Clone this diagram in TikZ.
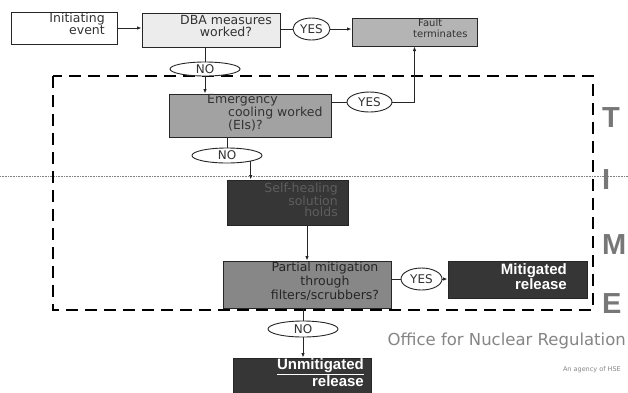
\documentclass[tikz,border=0pt]{standalone}
\usepackage{fontspec}
\setmainfont{DejaVu Sans}
\newfontfamily\arialfont{Liberation Sans}
\usetikzlibrary{shapes.geometric,arrows.meta}

\definecolor{edge}{HTML}{262626}
\definecolor{textdark}{HTML}{333333}
\definecolor{lightfill}{HTML}{ECECEC}
\definecolor{faultfill}{HTML}{B4B4B4}
\definecolor{coolfill}{HTML}{A2A2A2}
\definecolor{midfill}{HTML}{878787}
\definecolor{darkfill}{HTML}{363636}
\definecolor{dimtext}{HTML}{5E5E5E}
\definecolor{timegray}{HTML}{777777}
\definecolor{officegray}{HTML}{858585}

\begin{document}
\begin{tikzpicture}[x=1pt,y=-1pt]
\tikzstyle{flowbox}=[rectangle,draw=edge,line width=1pt,inner sep=0pt]
\tikzstyle{oval}=[ellipse,draw=edge,line width=0.9pt,fill=white,inner sep=0pt,text height=8.5pt,text depth=0pt,font=\fontsize{12}{12}\selectfont,text=textdark]
\tikzstyle{txt}=[inner sep=0pt,font=\fontsize{12.5}{12}\selectfont,text=textdark]
\tikzstyle{outcome}=[inner sep=0pt,font=\arialfont\bfseries\fontsize{15}{13}\selectfont,text=white,align=right,anchor=east]
\tikzstyle{flow}=[draw=edge,line width=0.9pt]
\tikzstyle{arr}=[flow,-{Latex[length=4.5pt,width=3.6pt]}]
\tikzstyle{timeletter}=[inner sep=0pt,anchor=west,font=\arialfont\bfseries\fontsize{29}{29}\selectfont,text=timegray]

\clip (0,0) rectangle (628,392);

% time line and the time window
\draw[gray,line width=0.6pt,dash pattern=on 0.8pt off 0.8pt] (0,176) -- (628,176);
\draw[line width=2.5pt,dash pattern=on 12pt off 7pt] (53,76) rectangle (593,310);

% boxes
\node[flowbox,fill=white,minimum width=106,minimum height=32] (init) at (64,28) {};
\node[flowbox,fill=lightfill,minimum width=138,minimum height=34] (dba) at (211,30) {};
\node[flowbox,fill=faultfill,minimum width=125,minimum height=28] (fault) at (414.5,32) {};
\node[flowbox,fill=coolfill,minimum width=162,minimum height=43] (emerg) at (250,115.5) {};
\node[flowbox,fill=darkfill,minimum width=121,minimum height=45] (self) at (287.5,202.5) {};
\node[flowbox,fill=midfill,minimum width=168,minimum height=47] (partial) at (307,284.5) {};
\node[flowbox,fill=darkfill,minimum width=139,minimum height=37] (mit) at (517.5,279.5) {};
\node[flowbox,fill=darkfill,minimum width=138,minimum height=44] (unmit) at (302,380) {};

% box texts
\node[txt,align=right,anchor=east] (inittxt) at (105,24) {Initiating\\event};
\node[txt,align=center] (dbatxt) at (226,26) {DBA measures\\worked?};
\node[txt,align=left,anchor=west,font=\fontsize{10}{11}\selectfont] (faulttxt) at (413,28.5) {\hspace*{5pt}Fault\\terminates};
\node[txt,align=left,anchor=west] (emergtxt) at (207,113) {Emergency\\\hspace*{21pt}cooling worked\\\hspace*{21pt}(EIs)?};
\node[txt,align=right,anchor=east,text=dimtext,font=\fontsize{12.5}{11.5}\selectfont] (selftxt) at (338,200) {Self-healing\\solution\\holds};
\node[txt,align=center,text=edge,font=\fontsize{12.5}{14}\selectfont] (partialtxt) at (325,281) {Partial mitigation\\through\\filters/scrubbers?};
\node[outcome] (mittxt) at (567,277) {Mitigated\\release};
\node[outcome] (unmittxt) at (364,373) {\underline{Unmitigated}\\release};

% decisions
\node[oval,minimum width=37,minimum height=22] (yes1) at (311.5,29) {YES};
\node[oval,minimum width=70,minimum height=14] (no1) at (205,69) {NO};
\node[oval,minimum width=45,minimum height=20] (yes2) at (369.5,102) {YES};
\node[oval,minimum width=70,minimum height=15] (no2) at (227,155.5) {NO};
\node[oval,minimum width=41,minimum height=22] (yes3) at (421.5,279) {YES};
\node[oval,minimum width=70,minimum height=16] (no3) at (303,329) {NO};

% connectors
\draw[arr] (init.east) -- (init.east -| dba.west);
\draw[flow] (dba.east |- yes1) -- (yes1);
\draw[arr] (yes1) -- (yes1 -| fault.west);
\draw[flow] (no1 |- dba.south) -- (no1);
\draw[arr] (no1) -- (no1 |- emerg.north);
\draw[flow] (emerg.east |- yes2) -- (yes2);
\draw[arr] (yes2) -| (fault.south);
\draw[flow] (no2 |- emerg.south) -- (no2);
\draw[arr] (no2.-14) -- (no2.-14 |- self.north);
\draw[arr] (partial.north |- self.south) -- (partial.north);
\draw[flow] (partial.east |- yes3) -- (yes3);
\draw[arr] (yes3) -- (yes3 -| mit.west);
\draw[flow] (no3 |- partial.south) -- (no3);
\draw[arr] (no3) -- (no3 |- unmit.north);

% TIME
\foreach \ch/\yy in {T/117.5,I/180,M/245,E/304}
  \node[timeletter] (time\ch) at (602,\yy) {\ch};

\node[inner sep=0pt,anchor=base east,text=officegray,font=\fontsize{16.5}{18}\selectfont] (onr) at (626,345) {Office for Nuclear Regulation};
\node[inner sep=0pt,anchor=base east,text=officegray,font=\fontsize{6.5}{8}\selectfont] (hse) at (621,371) {An agency of HSE};
\end{tikzpicture}
\end{document}
